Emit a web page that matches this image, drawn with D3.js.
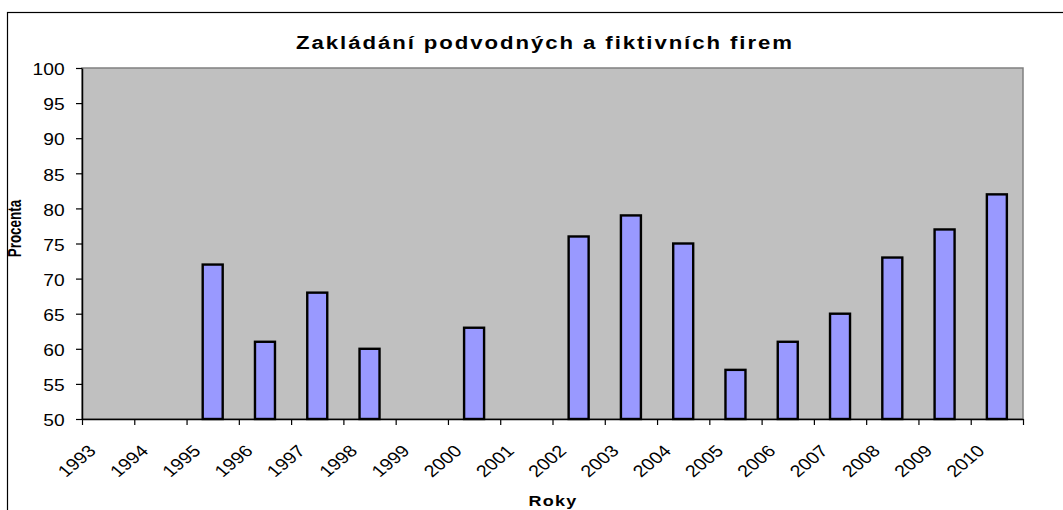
<!DOCTYPE html>
<html>
<head>
<meta charset="utf-8">
<script src="https://cdn.jsdelivr.net/npm/d3@7/dist/d3.min.js"></script>
<style>
  body { margin: 0; background: #fff; }
  text { font-family: "Liberation Sans", Arial, sans-serif; fill: #000; }
</style>
</head>
<body>
<div id="chart"></div>
<script>
// data
const years = ['1993','1994','1995','1996','1997','1998','1999','2000','2001',
               '2002','2003','2004','2005','2006','2007','2008','2009','2010'];
const values = [null, null, 72, 61, 68, 60, null, 63, null,
                76, 79, 75, 57, 61, 65, 73, 77, 82];
const yTicks = [50, 55, 60, 65, 70, 75, 80, 85, 90, 95, 100];
const title = 'Zakládání podvodných a fiktivních firem';
const xTitle = 'Roky';
const yTitle = 'Procenta';

const width = 1063, height = 510;
const plotLeft = 82, plotRight = 1023, plotTop = 68, plotBottom = 419;
const sx = 1.2; // the picture is stretched sideways

const svg = d3.select('#chart')
      .append('svg')
      .attr('width', width)
      .attr('height', height);

// outer frame
svg.append('rect')
   .attr('x', 7.5).attr('y', 12.5)
   .attr('width', width + 20).attr('height', height + 20)
   .attr('fill', 'none').attr('stroke', '#000').attr('stroke-width', 1.2);

// scales
const xScale = d3.scaleBand()
      .domain(years)
      .range([plotLeft, plotRight])
      .paddingInner(0.6175)
      .paddingOuter(0.30875);

const edge = d3.scaleLinear().domain([0, years.length]).range([plotLeft, plotRight]);

const yScale = d3.scaleLinear()
      .domain([50, 100])
      .range([plotBottom, plotTop]);

// plot area
svg.append('rect')
   .attr('x', plotLeft).attr('y', plotTop)
   .attr('width', plotRight - plotLeft).attr('height', plotBottom - plotTop)
   .attr('fill', '#c0c0c0')
   .attr('stroke', '#808080').attr('stroke-width', 1.5);

// bars
svg.selectAll('.bar')
   .data(years.map((y, i) => ({year: y, value: values[i]})).filter(d => d.value != null))
   .enter()
   .append('rect')
   .attr('class', 'bar')
   .attr('x', d => xScale(d.year))
   .attr('y', d => yScale(d.value))
   .attr('width', xScale.bandwidth())
   .attr('height', d => yScale(50) - yScale(d.value))
   .attr('fill', '#9999ff')
   .attr('stroke', '#000')
   .attr('stroke-width', 2.4);

// y axis
const yAxis = d3.axisLeft(yScale).tickValues(yTicks).tickSize(6).tickSizeOuter(0);
const yAxisG = svg.append('g')
      .attr('transform', 'translate(' + plotLeft + ',0)')
      .call(yAxis);
yAxisG.select('.domain').attr('stroke', '#000').attr('stroke-width', 1.5);
yAxisG.selectAll('.tick line').attr('stroke', '#000').attr('stroke-width', 1.2);
yAxisG.selectAll('.tick text')
      .attr('x', -14.5)
      .attr('dy', '0.42em')
      .attr('transform', 'scale(' + sx + ',1)')
      .style('font-size', '16px')
      .style('font-family', '"Liberation Sans", Arial, sans-serif')
      .attr('fill', '#000');

// x axis: ticks on category edges
const xAxis = d3.axisBottom(edge)
      .tickValues(d3.range(years.length + 1))
      .tickSize(6).tickSizeOuter(0)
      .tickFormat('');
const xAxisG = svg.append('g')
      .attr('transform', 'translate(0,' + plotBottom + ')')
      .call(xAxis);
xAxisG.select('.domain').attr('stroke', '#000').attr('stroke-width', 1.5);
xAxisG.selectAll('.tick line').attr('stroke', '#000').attr('stroke-width', 1.2);

// rotated year labels
svg.selectAll('.year')
   .data(years)
   .enter()
   .append('text')
   .attr('class', 'year')
   .attr('text-anchor', 'end')
   .attr('transform', d => 'translate(' + (xScale(d) + xScale.bandwidth() / 2 - 11) + ',' + (plotBottom + 33) + ') scale(' + sx + ',1) rotate(-45)')
   .style('font-size', '16.5px')
   .text(d => d);

// titles
svg.append('text')
   .attr('text-anchor', 'middle')
   .attr('transform', 'translate(545,48.5) scale(' + sx + ',1)')
   .style('font-size', '18.5px')
   .style('font-weight', 'bold')
   .style('letter-spacing', '1.6px')
   .text(title);

svg.append('text')
   .attr('text-anchor', 'middle')
   .attr('transform', 'translate(553,506) scale(' + sx + ',1)')
   .style('font-size', '15px')
   .style('font-weight', 'bold')
   .style('letter-spacing', '1px')
   .text(xTitle);

svg.append('text')
   .attr('text-anchor', 'middle')
   .attr('transform', 'translate(21,228.5) scale(1.4,1) rotate(-90)')
   .style('font-size', '13.5px')
   .style('font-weight', 'bold')
   .text(yTitle);
</script>
</body>
</html>
